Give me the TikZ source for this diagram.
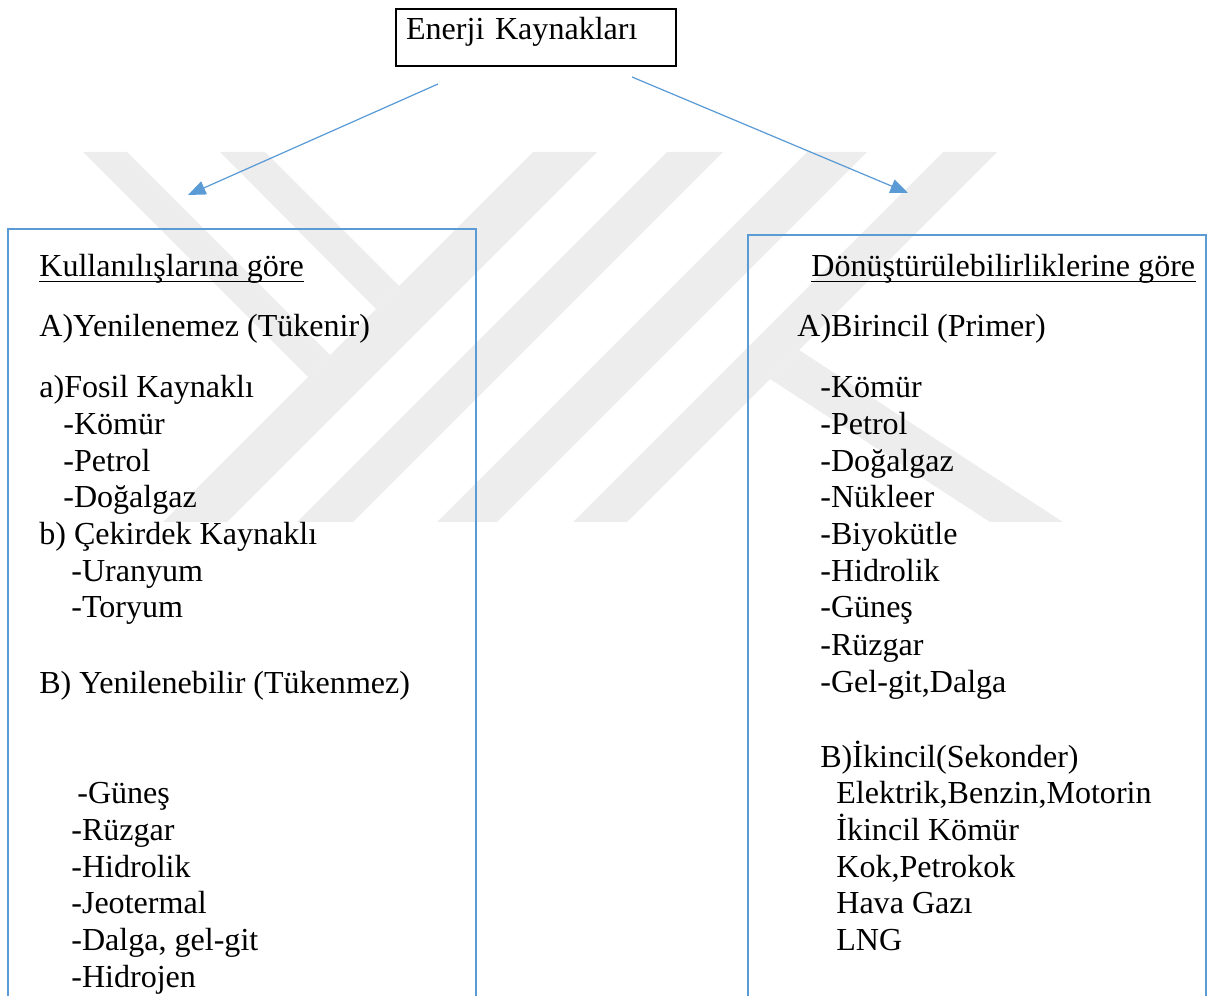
\documentclass[tikz,border=0pt]{standalone}
\usepackage{fontspec}
\setmainfont{Liberation Serif}
\usetikzlibrary{arrows.meta,positioning}
\definecolor{myblue}{RGB}{91,155,213}
\definecolor{mygrey}{RGB}{237,237,237}

\begin{document}
\begin{tikzpicture}[
  x=0.02cm, y=-0.02cm,
  myitem/.style={
    anchor=base west,
    inner sep=0pt,
    font=\fontsize{18.25}{21}\selectfont
    },
  mytop/.style={
    draw,
    line width=1.2pt,
    anchor=north west,
    inner xsep=0.2cm, inner ysep=0pt,
    text width=5.2cm, text height=0.6cm, text depth=0.54cm,
    align=left,
    font=\fontsize{18.25}{21}\selectfont
    },
  myframe/.style={draw=myblue, line width=0.9pt},
  myarrow/.style={
    draw=myblue,
    line width=0.7pt,
    -{Triangle[length=10pt,width=8pt]}
  },
  myunder/.style={line width=0.8pt}
]
\clip (0,0) rectangle (1207,996);

% watermark
\foreach \xa/\xb in {533/597, 667/723, 807/867, 943/997}
  \fill[mygrey] (\xa,152) -- (\xb,152) -- ({\xb-370},522) -- ({\xa-370},522) -- cycle;
\fill[mygrey] (83,152) -- (127,152) -- (330,355) -- (308,377) -- cycle;
\fill[mygrey] (220,152) -- (265,152) -- (399,286) -- (376,309) -- cycle;
\fill[mygrey] (799,350) -- (1063,522) -- (990,522) -- (770,379) -- cycle;

\node[mytop] (top) at (395,8) {Enerji Kaynakları};

\coordinate (lstart) at (438,84);
\coordinate (ltip)   at (188,195);
\coordinate (rstart) at (632,77);
\coordinate (rtip)   at (908,193);
\draw[myarrow] (lstart) -- (ltip);
\draw[myarrow] (rstart) -- (rtip);

% frames, open at the bottom
\draw[myframe] (8,1010) -- (8,229) -- (476,229) -- (476,1010);
\draw[myframe] (748,1010) -- (748,235) -- (1206,235) -- (1206,1010);

% headings
\node[myitem] (kul) at (39,277) {Kullanılışlarına göre\hspace{0.4cm}};
\draw[myunder] ([yshift=-2.5pt]kul.base west) -- ([yshift=-2.5pt]kul.base east);
\node[myitem] (don) at (811,277) {Dönüştürülebilirliklerine göre};
\draw[myunder] ([yshift=-2.5pt]don.base west) -- ([yshift=-2.5pt]don.base east);

% left column
\foreach \px/\py/\txt [count=\i] in {
  39/337/{A)Yenilenemez (Tükenir)},
  39/398/{a)Fosil Kaynaklı},
  63/435/{-Kömür},
  63/472/{-Petrol},
  63/508/{-Doğalgaz},
  39/545/{b) Çekirdek Kaynaklı},
  71/582/{-Uranyum},
  71/618/{-Toryum},
  39/693/{B) Yenilenebilir (Tükenmez)},
  77/803/{-Güneş},
  71/840/{-Rüzgar},
  71/877/{-Hidrolik},
  71/913/{-Jeotermal},
  71/950/{-Dalga, gel-git},
  71/987/{-Hidrojen}}
  \node[myitem] (L\i) at (\px,\py) {\txt};

% right column
\foreach \px/\py/\txt [count=\i] in {
  797/337/{A)Birincil (Primer)},
  820/398/{-Kömür},
  820/435/{-Petrol},
  820/472/{-Doğalgaz},
  820/508/{-Nükleer},
  820/545/{-Biyokütle},
  820/582/{-Hidrolik},
  820/618/{-Güneş},
  820/655/{-Rüzgar},
  820/692/{-Gel-git,Dalga},
  820/767/{B)İkincil(Sekonder)},
  836/803/{Elektrik,Benzin,Motorin},
  836/840/{İkincil Kömür},
  836/877/{Kok,Petrokok},
  836/913/{Hava Gazı},
  836/950/{LNG}}
  \node[myitem] (R\i) at (\px,\py) {\txt};

\end{tikzpicture}
\end{document}
